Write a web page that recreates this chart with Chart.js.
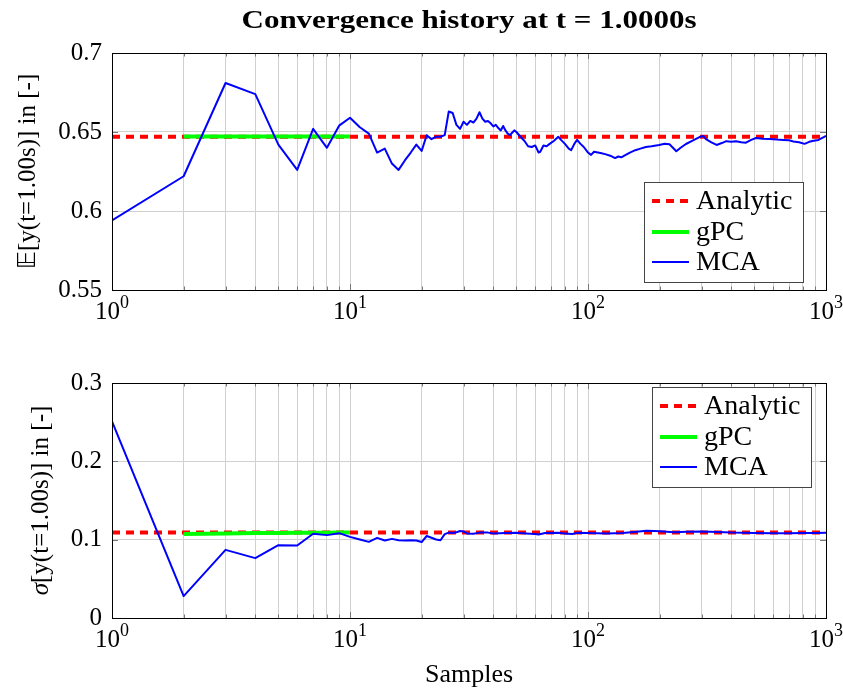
<!DOCTYPE html>
<html>
<head>
<meta charset="utf-8">
<script src="https://cdn.jsdelivr.net/npm/chart.js@4.4.0/dist/chart.umd.min.js"></script>
<style>
  body { margin: 0; background: #fff; }
  canvas { display: block; }
</style>
</head>
<body>
<canvas id="meanChart" width="843" height="345"></canvas>
<canvas id="stdChart" width="843" height="345"></canvas>
<script>
// ---- data ----
const titleText = 'Convergence history at t = 1.0000s';
const xLabelText = 'Samples';
const legendLabels = ['Analytic', 'gPC', 'MCA'];

// x axis: log decades and minor grid values
const xTickValues = [1, 10, 100, 1000];
const xTickExponents = ['0', '1', '2', '3'];
const xMinorSteps = [2, 3, 4, 5, 6, 7, 8, 9];

// y ticks
const meanTicks = [0.55, 0.6, 0.65, 0.7];
const stdTicks = [0, 0.1, 0.2, 0.3];

// analytic reference (constant over samples)
const analyticN = [1, 1000];
const analyticMean = [0.647, 0.647];
const analyticStd = [0.109, 0.109];

// gPC
const gpcN = [2, 3, 4, 5, 6, 7, 8, 9, 10];
const gpcMean = [0.6472, 0.6472, 0.6472, 0.6472, 0.6472, 0.6472, 0.6472, 0.6472, 0.6472];
const gpcStd = [0.1073, 0.1080, 0.1084, 0.1086, 0.1088, 0.1089, 0.1089, 0.1090, 0.1090];

// MCA running mean
const mcaMeanN = [1, 2, 3, 4, 5, 6, 7, 8, 9, 10, 11, 12, 13, 14, 15, 16, 17, 18, 19, 20,
  21, 22, 23, 24, 25, 26, 27, 28, 29, 30, 31, 32, 33, 34, 35, 36, 37, 38, 39, 40,
  41, 42, 43, 44, 45, 46, 47, 48, 49, 50, 52, 54, 56, 58, 60, 62, 63, 65, 67, 69,
  72, 75, 77, 80, 83, 85, 88, 90, 93, 96, 100, 103, 106, 110, 114, 118, 124, 130, 134, 138,
  144, 150, 158, 166, 175, 185, 199, 210, 220, 235, 245, 258, 275, 294, 305, 313, 330, 347, 365, 381,
  400, 419, 440, 461, 485, 508, 540, 581, 620, 661, 700, 729, 770, 813, 850, 888, 930, 978, 1000];
const mcaMean = [0.594, 0.622, 0.681, 0.674, 0.642, 0.626, 0.652, 0.640, 0.654, 0.659, 0.653, 0.649, 0.637, 0.6395, 0.630, 0.626, 0.632, 0.637, 0.642, 0.638,
  0.648, 0.6455, 0.647, 0.647, 0.648, 0.663, 0.662, 0.6545, 0.652, 0.6565, 0.6545, 0.657, 0.656, 0.6585, 0.6625, 0.6585, 0.6565, 0.657, 0.6555, 0.6535,
  0.6545, 0.6525, 0.651, 0.6538, 0.651, 0.649, 0.648, 0.6495, 0.651, 0.650, 0.647, 0.6445, 0.641, 0.6405, 0.6415, 0.637, 0.6375, 0.6415, 0.641, 0.6425,
  0.6445, 0.647, 0.645, 0.6425, 0.6395, 0.6385, 0.643, 0.645, 0.6425, 0.6405, 0.637, 0.6355, 0.6375, 0.637, 0.6365, 0.636, 0.635, 0.6335, 0.6345, 0.634,
  0.6355, 0.637, 0.6385, 0.6395, 0.6405, 0.641, 0.6418, 0.6425, 0.6422, 0.6378, 0.640, 0.6424, 0.6445, 0.6468, 0.6475, 0.6455, 0.6435, 0.6418, 0.643, 0.6442,
  0.6438, 0.6442, 0.6435, 0.6432, 0.645, 0.6462, 0.6458, 0.6455, 0.6452, 0.645, 0.6448, 0.644, 0.6435, 0.6425, 0.6438, 0.6445, 0.645, 0.6467, 0.6475];

// MCA running standard deviation
const mcaStdN = [1, 2, 3, 4, 5, 6, 7, 8, 9, 10, 11, 12, 13, 14, 15, 16, 17, 18, 19, 20,
  21, 22, 23, 24, 25, 26, 27, 28, 29, 30, 31, 33, 35, 38, 40, 45, 50, 55, 60, 62,
  66, 75, 80, 86, 90, 100, 120, 140, 160, 176, 190, 200, 230, 260, 300, 350, 400, 500, 600, 700,
  800, 900, 1000];
const mcaStd = [0.251, 0.028, 0.087, 0.0764, 0.093, 0.0926, 0.1075, 0.1058, 0.1083, 0.1036, 0.1002, 0.0972, 0.1023, 0.099, 0.101, 0.0993, 0.099, 0.0993, 0.099, 0.097,
  0.1047, 0.1025, 0.1002, 0.0993, 0.107, 0.109, 0.1085, 0.1095, 0.111, 0.1105, 0.108, 0.1075, 0.109, 0.109, 0.108, 0.1085, 0.1088, 0.108, 0.1072, 0.1065,
  0.1085, 0.1088, 0.108, 0.1072, 0.1088, 0.1085, 0.108, 0.1085, 0.110, 0.1115, 0.111, 0.1108, 0.1095, 0.1102, 0.1105, 0.1098, 0.109, 0.1085, 0.1082, 0.1082,
  0.1085, 0.1085, 0.1088];

// ---- styles ----
const FONT = '"Liberation Serif", "DejaVu Serif", serif';
const seriesColors = ['#ff0000', '#00ff00', '#0000ff'];
const seriesWidths = [4, 4, 2];
const seriesDash = [[8, 6], [], []];
const gridColor = '#d0d0d0';

const xGridValues = [];
xTickValues.forEach(d => {
  xGridValues.push(d);
  if (d < 1000) xMinorSteps.forEach(s => xGridValues.push(d * s));
});

function pts(xs, ys){ return xs.map((x, i) => ({x, y: ys[i]})); }

function buildDatasets(aY, gY, mN, mY){
  return [
    { label: legendLabels[0], data: pts(analyticN, aY), borderColor: seriesColors[0], borderWidth: seriesWidths[0], borderDash: seriesDash[0], order: 3 },
    { label: legendLabels[1], data: pts(gpcN, gY), borderColor: seriesColors[1], borderWidth: seriesWidths[1], order: 2 },
    { label: legendLabels[2], data: pts(mN, mY), borderColor: seriesColors[2], borderWidth: seriesWidths[2], order: 1 }
  ].map(d => Object.assign({ pointRadius: 0, tension: 0, fill: false, borderJoinStyle: 'round' }, d));
}

// ---- drawing helpers ----
function drawFrame(chart){
  const {ctx, chartArea: a, scales: {x, y}} = chart;
  ctx.save();
  ctx.strokeStyle = '#777';
  ctx.lineWidth = 1;
  ctx.beginPath();
  xGridValues.forEach(v => {
    const px = Math.round(x.getPixelForValue(v)) + 0.5;
    const len = xTickValues.includes(v) ? 6 : 3.5;
    ctx.moveTo(px, a.bottom); ctx.lineTo(px, a.bottom - len);
    ctx.moveTo(px, a.top); ctx.lineTo(px, a.top + len);
  });
  y.ticks.forEach(t => {
    const py = Math.round(y.getPixelForValue(t.value)) + 0.5;
    ctx.moveTo(a.left, py); ctx.lineTo(a.left + 6, py);
    ctx.moveTo(a.right, py); ctx.lineTo(a.right - 6, py);
  });
  ctx.stroke();
  ctx.strokeStyle = '#000';
  ctx.strokeRect(Math.round(a.left) + 0.5, Math.round(a.top) + 0.5, Math.round(a.right - a.left), Math.round(a.bottom - a.top));
  ctx.restore();
}

function drawXLabels(chart){
  const {ctx, chartArea: a, scales: {x}} = chart;
  ctx.save();
  ctx.fillStyle = '#000';
  ctx.textBaseline = 'alphabetic';
  ctx.textAlign = 'left';
  xTickValues.forEach((v, i) => {
    ctx.font = `25px ${FONT}`;
    const wb = ctx.measureText('10').width;
    ctx.font = `18px ${FONT}`;
    const we = ctx.measureText(xTickExponents[i]).width;
    const start = x.getPixelForValue(v) - (wb + we) / 2;
    const base = a.bottom + 29;
    ctx.font = `25px ${FONT}`;
    ctx.fillText('10', start, base);
    ctx.font = `18px ${FONT}`;
    ctx.fillText(xTickExponents[i], start + wb, base - 11);
  });
  ctx.restore();
}

function drawYTitle(chart, parts, cx){
  const {ctx, chartArea: a} = chart;
  const cy = (a.top + a.bottom) / 2;
  ctx.save();
  ctx.translate(cx, cy);
  ctx.rotate(-Math.PI / 2);
  ctx.fillStyle = '#000';
  ctx.textBaseline = 'middle';
  ctx.textAlign = 'left';
  let total = 0;
  parts.forEach(p => { ctx.font = p.font; p.w = ctx.measureText(p.text).width; total += p.w; });
  let xx = -total / 2;
  parts.forEach(p => { ctx.font = p.font; ctx.fillText(p.text, xx, 0); xx += p.w; });
  ctx.restore();
}

function drawLegend(ctx, left, top){
  const w = 159, h = 100;
  const rows = [19, 50, 80];
  ctx.save();
  ctx.fillStyle = '#fff';
  ctx.fillRect(left, top, w, h);
  ctx.strokeStyle = '#444';
  ctx.lineWidth = 1;
  ctx.strokeRect(left + 0.5, top + 0.5, w, h);
  legendLabels.forEach((lab, i) => {
    const yy = top + rows[i];
    ctx.beginPath();
    ctx.strokeStyle = seriesColors[i];
    ctx.lineWidth = seriesWidths[i];
    ctx.setLineDash(seriesDash[i]);
    ctx.moveTo(left + 8, yy);
    ctx.lineTo(left + 45, yy);
    ctx.stroke();
    ctx.setLineDash([]);
    ctx.fillStyle = '#000';
    ctx.font = `28px ${FONT}`;
    ctx.textBaseline = 'middle';
    ctx.fillText(lab, left + 52, yy + 1);
  });
  ctx.restore();
}

function makeOptions(ticks, padTop, xHeight){
  return {
    responsive: false,
    animation: false,
    devicePixelRatio: 1,
    layout: { padding: { top: padTop, right: 17, left: 0, bottom: 0 } },
    plugins: { legend: { display: false }, tooltip: { enabled: false }, title: { display: false } },
    scales: {
      x: {
        type: 'logarithmic', min: 1, max: 1000,
        afterBuildTicks: s => { s.ticks = xGridValues.map(v => ({ value: v })); },
        afterFit: s => { s.height = xHeight; },
        ticks: { display: false },
        grid: { color: gridColor, drawTicks: false },
        border: { display: false }
      },
      y: {
        min: ticks[0], max: ticks[ticks.length - 1],
        afterBuildTicks: s => { s.ticks = ticks.map(v => ({ value: v })); },
        afterFit: s => { s.width = 112; },
        ticks: { color: '#000', font: { family: FONT, size: 25 }, padding: 10, callback: v => String(v) },
        grid: { color: gridColor, drawTicks: false },
        border: { display: false }
      }
    }
  };
}

// ---- charts ----
const meanChart = new Chart(document.getElementById('meanChart'), {
  type: 'line',
  data: { datasets: buildDatasets(analyticMean, gpcMean, mcaMeanN, mcaMean) },
  options: makeOptions(meanTicks, 53, 55),
  plugins: [{
    id: 'meanDecor',
    afterDatasetsDraw(chart){
      const {ctx, chartArea: a} = chart;
      drawFrame(chart);
      drawXLabels(chart);
      drawYTitle(chart, [
        { text: '\u{1D53C}', font: `25px "DejaVu Sans", ${FONT}` },
        { text: '[y(t=1.00s)] in [-]', font: `25px ${FONT}` }
      ], 28);
      drawLegend(ctx, a.right - 182, a.bottom - 108);
      // title
      ctx.save();
      ctx.font = `bold 26px ${FONT}`;
      ctx.fillStyle = '#000';
      ctx.textAlign = 'center';
      ctx.textBaseline = 'alphabetic';
      const tw = ctx.measureText(titleText).width;
      ctx.translate((a.left + a.right) / 2, 28);
      ctx.scale(455 / tw, 1);
      ctx.fillText(titleText, 0, 0);
      ctx.restore();
    }
  }]
});

const stdChart = new Chart(document.getElementById('stdChart'), {
  type: 'line',
  data: { datasets: buildDatasets(analyticStd, gpcStd, mcaStdN, mcaStd) },
  options: makeOptions(stdTicks, 38, 72),
  plugins: [{
    id: 'stdDecor',
    afterDatasetsDraw(chart){
      const {ctx, chartArea: a} = chart;
      drawFrame(chart);
      drawXLabels(chart);
      drawYTitle(chart, [
        { text: '\u03C3', font: `italic 25px ${FONT}` },
        { text: '[y(t=1.00s)] in [-]', font: `25px ${FONT}` }
      ], 41);
      drawLegend(ctx, a.right - 174, a.top + 4);
      ctx.save();
      ctx.font = `26px ${FONT}`;
      ctx.fillStyle = '#000';
      ctx.textAlign = 'center';
      ctx.textBaseline = 'middle';
      ctx.fillText(xLabelText, (a.left + a.right) / 2, 330);
      ctx.restore();
    }
  }]
});
</script>
</body>
</html>
